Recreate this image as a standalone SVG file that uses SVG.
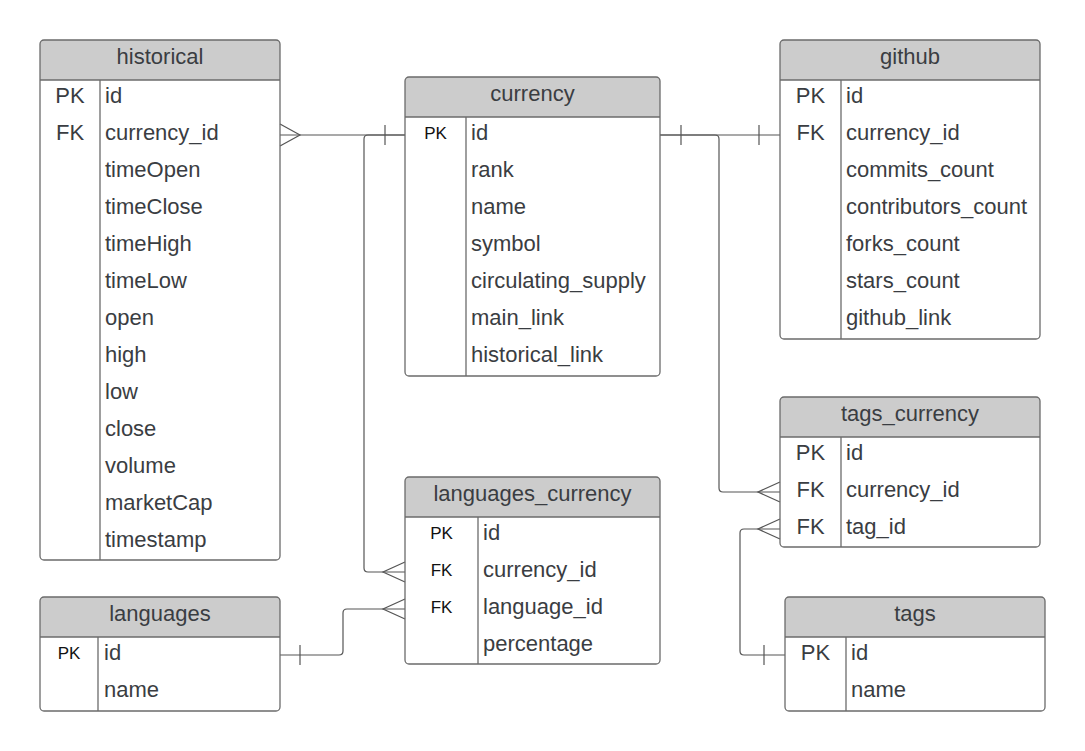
<svg xmlns="http://www.w3.org/2000/svg" width="1085" height="751" viewBox="0 0 1085 751">
<style>
.hdr{fill:#cccccc;stroke:none}
.box{fill:none;stroke:#6b6b6b;stroke-width:1.3}
.div{stroke:#6b6b6b;stroke-width:1.3}
.t{font-family:"Liberation Sans",Arial,sans-serif;font-size:22px;fill:#3a3d42}
.tc{text-anchor:middle}
.k{font-family:"Liberation Sans",Arial,sans-serif;font-size:17px;fill:#111;text-anchor:middle}
.c{fill:none;stroke:#555;stroke-width:1.2}
</style>
<rect width="1085" height="751" fill="#ffffff"/>

<g id="connectors">
  <path class="c" d="M280,135 H405"/>
  <path class="c" d="M280,124 L300,135 L280,146"/>
  <path class="c" d="M385,125 V145"/>
  <path class="c" d="M405,135 H368 Q364,135 364,139 V568 Q364,572 368,572 H405"/>
  <path class="c" d="M405,562 L383,572 L405,582"/>
  <path class="c" d="M660,135 H780"/>
  <path class="c" d="M681,125 V145 M759,125 V145"/>
  <path class="c" d="M660,135 H715 Q719,135 719,139 V488 Q719,492 723,492 H780"/>
  <path class="c" d="M780,482 L758,492 L780,502"/>
  <path class="c" d="M780,529 H744 Q740,529 740,533 V651 Q740,655 744,655 H785"/>
  <path class="c" d="M780,519 L758,529 L780,539"/>
  <path class="c" d="M764,645 V665"/>
  <path class="c" d="M280,655 H339 Q343,655 343,651 V613 Q343,609 347,609 H405"/>
  <path class="c" d="M300,645 V665"/>
  <path class="c" d="M405,599 L383,609 L405,619"/>
</g>

<g id="historical">
  <path class="hdr" d="M40,80 V44 Q40,40 44,40 H276 Q280,40 280,44 V80 Z"/>
  <rect class="box" x="40" y="40" width="240" height="520" rx="4"/>
  <line class="div" x1="40" y1="80" x2="280" y2="80"/>
  <line class="div" x1="100" y1="80" x2="100" y2="560"/>
  <text class="t tc" x="160" y="64">historical</text>
  <text class="t tc" x="70" y="103">PK</text>
  <text class="t tc" x="70" y="140">FK</text>
  <text class="t" x="105" y="103">id</text>
  <text class="t" x="105" y="140">currency_id</text>
  <text class="t" x="105" y="177">timeOpen</text>
  <text class="t" x="105" y="214">timeClose</text>
  <text class="t" x="105" y="251">timeHigh</text>
  <text class="t" x="105" y="288">timeLow</text>
  <text class="t" x="105" y="325">open</text>
  <text class="t" x="105" y="362">high</text>
  <text class="t" x="105" y="399">low</text>
  <text class="t" x="105" y="436">close</text>
  <text class="t" x="105" y="473">volume</text>
  <text class="t" x="105" y="510">marketCap</text>
  <text class="t" x="105" y="547">timestamp</text>
</g>

<g id="currency">
  <path class="hdr" d="M405,117 V81 Q405,77 409,77 H656 Q660,77 660,81 V117 Z"/>
  <rect class="box" x="405" y="77" width="255" height="299" rx="4"/>
  <line class="div" x1="405" y1="117" x2="660" y2="117"/>
  <line class="div" x1="466" y1="117" x2="466" y2="376"/>
  <text class="t tc" x="532.5" y="101">currency</text>
  <text class="k" x="435.5" y="139">PK</text>
  <text class="t" x="471" y="140">id</text>
  <text class="t" x="471" y="177">rank</text>
  <text class="t" x="471" y="214">name</text>
  <text class="t" x="471" y="251">symbol</text>
  <text class="t" x="471" y="288">circulating_supply</text>
  <text class="t" x="471" y="325">main_link</text>
  <text class="t" x="471" y="362">historical_link</text>
</g>

<g id="github">
  <path class="hdr" d="M780,80 V44 Q780,40 784,40 H1036 Q1040,40 1040,44 V80 Z"/>
  <rect class="box" x="780" y="40" width="260" height="299" rx="4"/>
  <line class="div" x1="780" y1="80" x2="1040" y2="80"/>
  <line class="div" x1="841" y1="80" x2="841" y2="339"/>
  <text class="t tc" x="910" y="64">github</text>
  <text class="t tc" x="810.5" y="103">PK</text>
  <text class="t tc" x="810.5" y="140">FK</text>
  <text class="t" x="846" y="103">id</text>
  <text class="t" x="846" y="140">currency_id</text>
  <text class="t" x="846" y="177">commits_count</text>
  <text class="t" x="846" y="214">contributors_count</text>
  <text class="t" x="846" y="251">forks_count</text>
  <text class="t" x="846" y="288">stars_count</text>
  <text class="t" x="846" y="325">github_link</text>
</g>

<g id="tags_currency">
  <path class="hdr" d="M780,437 V401 Q780,397 784,397 H1036 Q1040,397 1040,401 V437 Z"/>
  <rect class="box" x="780" y="397" width="260" height="150" rx="4"/>
  <line class="div" x1="780" y1="437" x2="1040" y2="437"/>
  <line class="div" x1="841" y1="437" x2="841" y2="547"/>
  <text class="t tc" x="910" y="421">tags_currency</text>
  <text class="t tc" x="810.5" y="460">PK</text>
  <text class="t tc" x="810.5" y="497">FK</text>
  <text class="t tc" x="810.5" y="534">FK</text>
  <text class="t" x="846" y="460">id</text>
  <text class="t" x="846" y="497">currency_id</text>
  <text class="t" x="846" y="534">tag_id</text>
</g>

<g id="tags">
  <path class="hdr" d="M785,637 V601 Q785,597 789,597 H1041 Q1045,597 1045,601 V637 Z"/>
  <rect class="box" x="785" y="597" width="260" height="114" rx="4"/>
  <line class="div" x1="785" y1="637" x2="1045" y2="637"/>
  <line class="div" x1="846" y1="637" x2="846" y2="711"/>
  <text class="t tc" x="915" y="621">tags</text>
  <text class="t tc" x="815.5" y="660">PK</text>
  <text class="t" x="851" y="660">id</text>
  <text class="t" x="851" y="697">name</text>
</g>

<g id="languages_currency">
  <path class="hdr" d="M405,517 V481 Q405,477 409,477 H656 Q660,477 660,481 V517 Z"/>
  <rect class="box" x="405" y="477" width="255" height="187" rx="4"/>
  <line class="div" x1="405" y1="517" x2="660" y2="517"/>
  <line class="div" x1="478" y1="517" x2="478" y2="664"/>
  <text class="t tc" x="532.5" y="501">languages_currency</text>
  <text class="k" x="441.5" y="539">PK</text>
  <text class="k" x="441.5" y="576">FK</text>
  <text class="k" x="441.5" y="613">FK</text>
  <text class="t" x="483" y="540">id</text>
  <text class="t" x="483" y="577">currency_id</text>
  <text class="t" x="483" y="614">language_id</text>
  <text class="t" x="483" y="651">percentage</text>
</g>

<g id="languages">
  <path class="hdr" d="M40,637 V601 Q40,597 44,597 H276 Q280,597 280,601 V637 Z"/>
  <rect class="box" x="40" y="597" width="240" height="114" rx="4"/>
  <line class="div" x1="40" y1="637" x2="280" y2="637"/>
  <line class="div" x1="98" y1="637" x2="98" y2="711"/>
  <text class="t tc" x="160" y="621">languages</text>
  <text class="k" x="69" y="659">PK</text>
  <text class="t" x="104" y="660">id</text>
  <text class="t" x="104" y="697">name</text>
</g>
</svg>
